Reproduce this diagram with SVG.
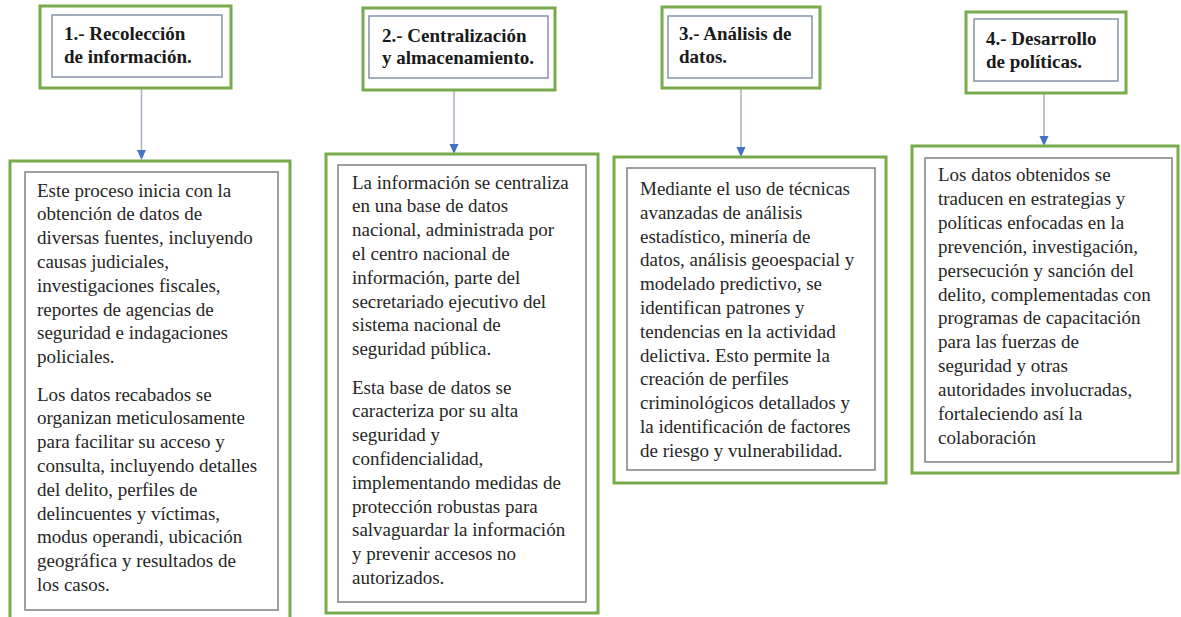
<svg xmlns="http://www.w3.org/2000/svg" width="1181" height="617" viewBox="0 0 1181 617">
<style>
.outer{fill:#ffffff;stroke:#77ab4c;stroke-width:3}
.inner{fill:#ffffff;stroke:#808080;stroke-width:1.5}
.hinner{fill:#ffffff;stroke:#8792a8;stroke-width:1.5}
.conn{stroke:#a3afc2;stroke-width:1.5;fill:none}
.ah{fill:#4472c4}
</style>
<rect width="1181" height="617" fill="#ffffff"/>
<g id="connectors">
<line class="conn" x1="141.5" y1="89" x2="141.5" y2="152"/>
<polygon class="ah" points="137,150 146,150 141.5,160"/>
<line class="conn" x1="454" y1="91" x2="454" y2="146"/>
<polygon class="ah" points="449.5,144 458.5,144 454,154"/>
<line class="conn" x1="741" y1="89" x2="741" y2="149"/>
<polygon class="ah" points="736.5,147 745.5,147 741,157"/>
<line class="conn" x1="1044" y1="94" x2="1044" y2="138"/>
<polygon class="ah" points="1039.5,136 1048.5,136 1044,146"/>
</g>
<g id="h1">
<rect class="outer" x="40" y="6" width="191" height="82"/>
<rect class="hinner" x="52" y="15" width="170" height="62"/>
<text font-family="Liberation Serif" font-size="19" font-weight="bold" fill="#1a1a1a" x="64" y="40">1.- Recolección</text>
<text font-family="Liberation Serif" font-size="19" font-weight="bold" fill="#1a1a1a" x="64" y="63">de información.</text>
</g>
<g id="h2">
<rect class="outer" x="363" y="8" width="192" height="82"/>
<rect class="hinner" x="369" y="16" width="179" height="62"/>
<text font-family="Liberation Serif" font-size="19" font-weight="bold" fill="#1a1a1a" x="382" y="42">2.- Centralización</text>
<text font-family="Liberation Serif" font-size="19" font-weight="bold" fill="#1a1a1a" x="382" y="64">y almacenamiento.</text>
</g>
<g id="h3">
<rect class="outer" x="662" y="7" width="158" height="81"/>
<rect class="hinner" x="668" y="16" width="144" height="62"/>
<text font-family="Liberation Serif" font-size="19" font-weight="bold" fill="#1a1a1a" x="679" y="40">3.- Análisis de</text>
<text font-family="Liberation Serif" font-size="19" font-weight="bold" fill="#1a1a1a" x="679" y="63">datos.</text>
</g>
<g id="h4">
<rect class="outer" x="966" y="12" width="160" height="81"/>
<rect class="hinner" x="974" y="19" width="144" height="62"/>
<text font-family="Liberation Serif" font-size="19" font-weight="bold" fill="#1a1a1a" x="986" y="45">4.- Desarrollo</text>
<text font-family="Liberation Serif" font-size="19" font-weight="bold" fill="#1a1a1a" x="986" y="68">de políticas.</text>
</g>
<g id="b1">
<rect class="outer" x="10" y="161" width="280" height="470"/>
<rect class="inner" x="25" y="172" width="253" height="438"/>
<text font-family="Liberation Serif" font-size="19" fill="#262626">
<tspan x="37" y="196.5">Este proceso inicia con la</tspan>
<tspan x="37" y="220.3">obtención de datos de</tspan>
<tspan x="37" y="244.1">diversas fuentes, incluyendo</tspan>
<tspan x="37" y="267.9">causas judiciales,</tspan>
<tspan x="37" y="291.7">investigaciones fiscales,</tspan>
<tspan x="37" y="315.5">reportes de agencias de</tspan>
<tspan x="37" y="339.3">seguridad e indagaciones</tspan>
<tspan x="37" y="363.1">policiales.</tspan>
</text>
<text font-family="Liberation Serif" font-size="19" fill="#262626">
<tspan x="37" y="400.5">Los datos recabados se</tspan>
<tspan x="37" y="424.3">organizan meticulosamente</tspan>
<tspan x="37" y="448.1">para facilitar su acceso y</tspan>
<tspan x="37" y="471.9">consulta, incluyendo detalles</tspan>
<tspan x="37" y="495.7">del delito, perfiles de</tspan>
<tspan x="37" y="519.5">delincuentes y víctimas,</tspan>
<tspan x="37" y="543.3">modus operandi, ubicación</tspan>
<tspan x="37" y="567.1">geográfica y resultados de</tspan>
<tspan x="37" y="590.9">los casos.</tspan>
</text>
</g>
<g id="b2">
<rect class="outer" x="326" y="154" width="272" height="459"/>
<rect class="inner" x="338" y="165" width="248" height="437"/>
<text font-family="Liberation Serif" font-size="19" fill="#262626">
<tspan x="352" y="188.5">La información se centraliza</tspan>
<tspan x="352" y="212.3">en una base de datos</tspan>
<tspan x="352" y="236.1">nacional, administrada por</tspan>
<tspan x="352" y="259.9">el centro nacional de</tspan>
<tspan x="352" y="283.7">información, parte del</tspan>
<tspan x="352" y="307.5">secretariado ejecutivo del</tspan>
<tspan x="352" y="331.3">sistema nacional de</tspan>
<tspan x="352" y="355.1">seguridad pública.</tspan>
</text>
<text font-family="Liberation Serif" font-size="19" fill="#262626">
<tspan x="352" y="393.5">Esta base de datos se</tspan>
<tspan x="352" y="417.3">caracteriza por su alta</tspan>
<tspan x="352" y="441.1">seguridad y</tspan>
<tspan x="352" y="464.9">confidencialidad,</tspan>
<tspan x="352" y="488.7">implementando medidas de</tspan>
<tspan x="352" y="512.5">protección robustas para</tspan>
<tspan x="352" y="536.3">salvaguardar la información</tspan>
<tspan x="352" y="560.1">y prevenir accesos no</tspan>
<tspan x="352" y="583.9">autorizados.</tspan>
</text>
</g>
<g id="b3">
<rect class="outer" x="614" y="157" width="272" height="326"/>
<rect class="inner" x="627" y="168" width="248" height="302"/>
<text font-family="Liberation Serif" font-size="19" fill="#262626">
<tspan x="640" y="195">Mediante el uso de técnicas</tspan>
<tspan x="640" y="218.8">avanzadas de análisis</tspan>
<tspan x="640" y="242.6">estadístico, minería de</tspan>
<tspan x="640" y="266.4">datos, análisis geoespacial y</tspan>
<tspan x="640" y="290.2">modelado predictivo, se</tspan>
<tspan x="640" y="314">identifican patrones y</tspan>
<tspan x="640" y="337.8">tendencias en la actividad</tspan>
<tspan x="640" y="361.6">delictiva. Esto permite la</tspan>
<tspan x="640" y="385.4">creación de perfiles</tspan>
<tspan x="640" y="409.2">criminológicos detallados y</tspan>
<tspan x="640" y="433">la identificación de factores</tspan>
<tspan x="640" y="456.8">de riesgo y vulnerabilidad.</tspan>
</text>
</g>
<g id="b4">
<rect class="outer" x="912" y="146" width="266" height="327"/>
<rect class="inner" x="925" y="158" width="247" height="304"/>
<text font-family="Liberation Serif" font-size="19" fill="#262626">
<tspan x="938" y="181">Los datos obtenidos se</tspan>
<tspan x="938" y="204.9">traducen en estrategias y</tspan>
<tspan x="938" y="228.8">políticas enfocadas en la</tspan>
<tspan x="938" y="252.7">prevención, investigación,</tspan>
<tspan x="938" y="276.6">persecución y sanción del</tspan>
<tspan x="938" y="300.5">delito, complementadas con</tspan>
<tspan x="938" y="324.4">programas de capacitación</tspan>
<tspan x="938" y="348.3">para las fuerzas de</tspan>
<tspan x="938" y="372.2">seguridad y otras</tspan>
<tspan x="938" y="396.1">autoridades involucradas,</tspan>
<tspan x="938" y="420">fortaleciendo así la</tspan>
<tspan x="938" y="443.9">colaboración</tspan>
</text>
</g>
</svg>
